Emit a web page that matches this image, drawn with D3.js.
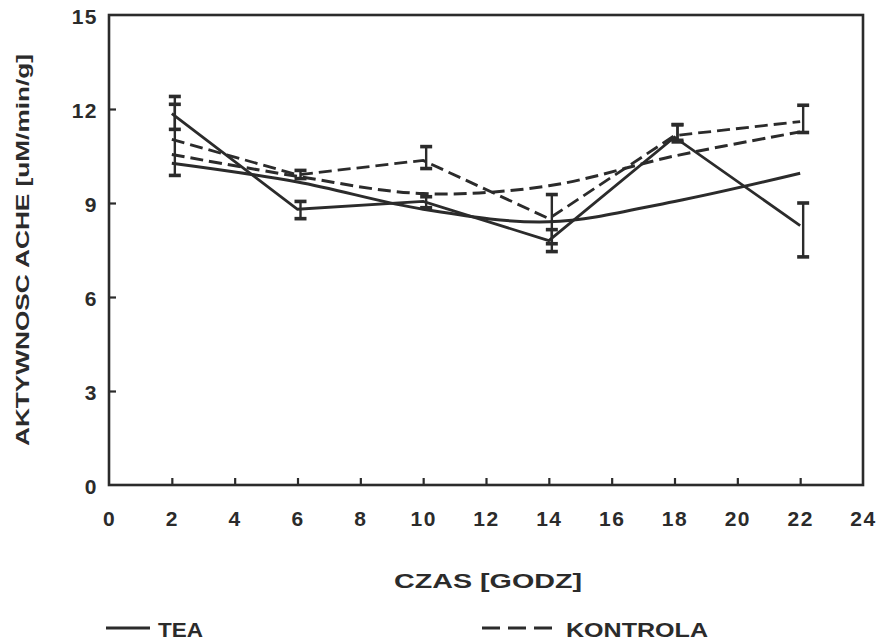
<!DOCTYPE html>
<html><head><meta charset="utf-8">
<script src="https://cdn.jsdelivr.net/npm/d3@7/dist/d3.min.js"></script>
<style>body{margin:0;background:#fff}svg{display:block}</style>
</head><body><div id="chart"></div>
<script>
const hours = [2, 6, 10, 14, 18, 22];
const teaValues = [11.85, 8.8, 9.05, 7.8, 11.1, 8.28];
const teaLow = [11.35, 8.5, 8.85, 7.45, 11.0, 7.28];
const teaHigh = [12.4, 9.05, 9.2, 8.15, 11.5, 9.0];
const teaFit = [10.27, 9.67, 8.8, 8.4, 9.05, 9.95];
const kontrolaValues = [11.03, 9.9, 10.36, 8.5, 11.15, 11.6];
const kontrolaLow = [9.88, 9.78, 10.1, 7.7, 10.95, 11.25];
const kontrolaHigh = [12.15, 10.04, 10.8, 9.27, 11.5, 12.12];
const kontrolaFit = [10.55, 9.85, 9.3, 9.55, 10.5, 11.27];
const xTicks = [0, 2, 4, 6, 8, 10, 12, 14, 16, 18, 20, 22, 24];
const yTicks = [0, 3, 6, 9, 12, 15];
const xTitle = "CZAS [GODZ]";
const yTitle = "AKTYWNOSC ACHE [uM/min/g]";
const legendLabels = ["TEA", "KONTROLA"];

const W = 887, H = 644;
const ink = "#2b2b2b";
const font = "'Liberation Sans', Arial, sans-serif";
const m = {left: 109, right: 863, top: 15, bottom: 485};

const svg = d3.select("#chart").append("svg").attr("width", W).attr("height", H);
const x = d3.scaleLinear().domain([0, 24]).range([m.left, m.right]);
const y = d3.scaleLinear().domain([0, 15]).range([m.bottom, m.top]);

// frame
svg.append("rect").attr("x", m.left).attr("y", m.top)
  .attr("width", m.right - m.left).attr("height", m.bottom - m.top)
  .attr("fill", "none").attr("stroke", ink).attr("stroke-width", 2.6);

// x axis
const xa = svg.append("g").attr("transform", `translate(0,${m.bottom})`)
  .call(d3.axisBottom(x).tickValues(xTicks).tickSize(-7).tickPadding(26).tickFormat(d3.format("d")));
xa.select(".domain").remove();
xa.selectAll(".tick line").attr("stroke", ink).attr("stroke-width", 2.2)
  .attr("display", d => (d === 0 || d === 24) ? "none" : null);
xa.selectAll(".tick text").attr("fill", ink).attr("font-family", font)
  .attr("font-weight", "bold").attr("font-size", 21).attr("letter-spacing", 1.5);

// y axis
const ya = svg.append("g").attr("transform", `translate(${m.left},0)`)
  .call(d3.axisLeft(y).tickValues(yTicks).tickSize(-7).tickPadding(11).tickFormat(d3.format("d")));
ya.select(".domain").remove();
ya.selectAll(".tick line").attr("stroke", ink).attr("stroke-width", 2.2)
  .attr("display", d => (d === 0 || d === 15) ? "none" : null);
ya.selectAll(".tick text").attr("fill", ink).attr("font-family", font)
  .attr("font-weight", "bold").attr("font-size", 21).attr("letter-spacing", 1.5).attr("dy", "0.4em");

// lines
const lin = d3.line().x(d => x(d[0])).y(d => y(d[1]));
const smooth = d3.line().x(d => x(d[0])).y(d => y(d[1])).curve(d3.curveCatmullRom.alpha(0.5));
const zip = (a) => hours.map((h, i) => [h, a[i]]);

const series = [
  {vals: teaValues, low: teaLow, high: teaHigh, fit: teaFit, dash: null},
  {vals: kontrolaValues, low: kontrolaLow, high: kontrolaHigh, fit: kontrolaFit, dash: "13,6"}
];

series.forEach(s => {
  svg.append("path").attr("d", smooth(zip(s.fit))).attr("fill", "none")
    .attr("stroke", ink).attr("stroke-width", 3).attr("stroke-dasharray", s.dash);
  svg.append("path").attr("d", lin(zip(s.vals))).attr("fill", "none")
    .attr("stroke", ink).attr("stroke-width", 2.8).attr("stroke-dasharray", s.dash);
  const g = svg.append("g");
  hours.forEach((h, i) => {
    const cx = x(h) + 3;
    g.append("line").attr("x1", cx).attr("x2", cx).attr("y1", y(s.low[i])).attr("y2", y(s.high[i]))
      .attr("stroke", ink).attr("stroke-width", 2.4);
    [s.low[i], s.high[i]].forEach(v => {
      g.append("line").attr("x1", cx - 6).attr("x2", cx + 6).attr("y1", y(v)).attr("y2", y(v))
        .attr("stroke", ink).attr("stroke-width", 3.6);
    });
  });
});

// axis titles
svg.append("text").attr("x", 488).attr("y", 588).attr("text-anchor", "middle")
  .attr("font-family", font).attr("font-weight", "bold").attr("font-size", 21)
  .attr("fill", ink).attr("textLength", 188).attr("lengthAdjust", "spacingAndGlyphs").text(xTitle);
svg.append("text").attr("transform", "translate(29,250) rotate(-90)").attr("text-anchor", "middle")
  .attr("font-family", font).attr("font-weight", "bold").attr("font-size", 19)
  .attr("fill", ink).attr("textLength", 392).attr("lengthAdjust", "spacingAndGlyphs").text(yTitle);

// legend
const legY = 628;
svg.append("line").attr("x1", 106).attr("x2", 150).attr("y1", legY).attr("y2", legY)
  .attr("stroke", ink).attr("stroke-width", 3);
svg.append("text").attr("x", 158).attr("y", legY + 9).attr("font-family", font).attr("font-weight", "bold")
  .attr("font-size", 20).attr("fill", ink).attr("textLength", 45).attr("lengthAdjust", "spacingAndGlyphs")
  .text(legendLabels[0]);
svg.append("line").attr("x1", 482).attr("x2", 552).attr("y1", legY).attr("y2", legY)
  .attr("stroke", ink).attr("stroke-width", 3).attr("stroke-dasharray", "18,8");
svg.append("text").attr("x", 566).attr("y", legY + 9).attr("font-family", font).attr("font-weight", "bold")
  .attr("font-size", 20).attr("fill", ink).attr("textLength", 142).attr("lengthAdjust", "spacingAndGlyphs")
  .text(legendLabels[1]);
</script></body></html>
